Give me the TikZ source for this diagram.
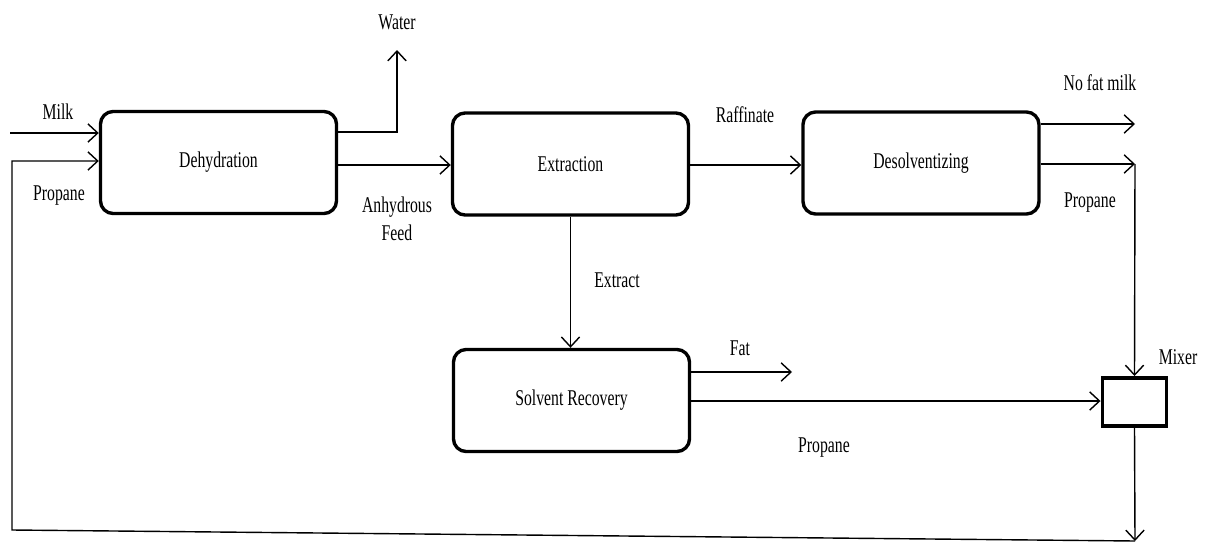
\documentclass[tikz,border=0pt]{standalone}
\usepackage{fontspec}
\setmainfont[FakeStretch=0.7]{Liberation Serif}
\usetikzlibrary{arrows.meta}

\tikzset{
  unit/.style = {draw, line width = 2.4pt, rounded corners = 9pt,
    minimum width = 5.9cm, minimum height = 2.55cm, lbl},
  mixbox/.style = {draw, line width = 2.8pt, minimum width = 1.6cm,
    minimum height = 1.2cm},
  flow/.style = {line width = 1pt, -{Straight Barb[length = 7pt, width = 13pt]}},
  lbl/.style = {font = \fontsize{16}{20}\selectfont, align = center},
}

\begin{document}
\begin{tikzpicture}[x = 0.025cm, y = -0.025cm]
      \useasboundingbox (0, 0) rectangle (1211, 546);
      \node [unit]   (dehy)   at (218.5, 162.5) {Dehydration};
      \node [unit]   (extr)   at (570.5, 164)   {Extraction};
      \node [unit]   (desolv) at (921,   163)   {Desolventizing};
      \node [unit]   (recov)  at (571.5, 400.5) {Solvent Recovery};
      \node [mixbox] (mixer)  at (1134.5, 402)  {};

      \coordinate (milkin)   at (10,   133);
      \coordinate (topleft)  at (12,   161);
      \coordinate (botleft)  at (12,   530);
      \coordinate (botright) at (1135, 541);
      \coordinate (waterout) at (397,  50);
      \coordinate (milkout)  at (1135, 124);
      \coordinate (propout)  at (1135, 164);
      \coordinate (fatout)   at (792,  372);

      \draw [flow] (milkin) -- (dehy.west |- milkin);
      \draw [flow] (botright) -- (botleft) -- (topleft) -- (dehy.west |- topleft);
      \draw [flow] (dehy.east |- 0, 132) -| (waterout);
      \draw [flow] (dehy.east |- 0, 165) -- (extr.west |- 0, 165);
      \draw [flow] (extr.east |- 0, 165) -- (desolv.west |- 0, 165);
      \draw [flow] (desolv.east |- milkout) -- (milkout);
      \draw [flow] (desolv.east |- propout) -- (propout);
      \draw [flow] (propout) -- (mixer.north);
      \draw [flow] (extr.south) -- (extr.south |- recov.north);
      \draw [flow] (recov.east |- fatout) -- (fatout);
      \draw [flow] (recov.east |- 0, 401) -- (mixer.west |- 0, 401);
      \draw [flow] (mixer.south) -- (botright);

      \node [lbl] (milk)    at (58,   112) {Milk};
      \node [lbl] (propin)  at (59,   196) {Propane};
      \node [lbl] (water)   at (397,  22)  {Water};
      \node [lbl] (anhyd)   at (397,  219) {Anhydrous\\Feed};
      \node [lbl] (raff)    at (745,  115) {Raffinate};
      \node [lbl] (nofat)   at (1100, 83)  {No fat milk};
      \node [lbl] (propdes) at (1090, 203) {Propane};
      \node [lbl] (extract) at (617,  280) {Extract};
      \node [lbl] (fat)     at (740,  348) {Fat};
      \node [lbl] (proprec) at (824,  448) {Propane};
      \node [lbl] (mixlbl)  at (1178, 357) {Mixer};
    \end{tikzpicture}
\end{document}
